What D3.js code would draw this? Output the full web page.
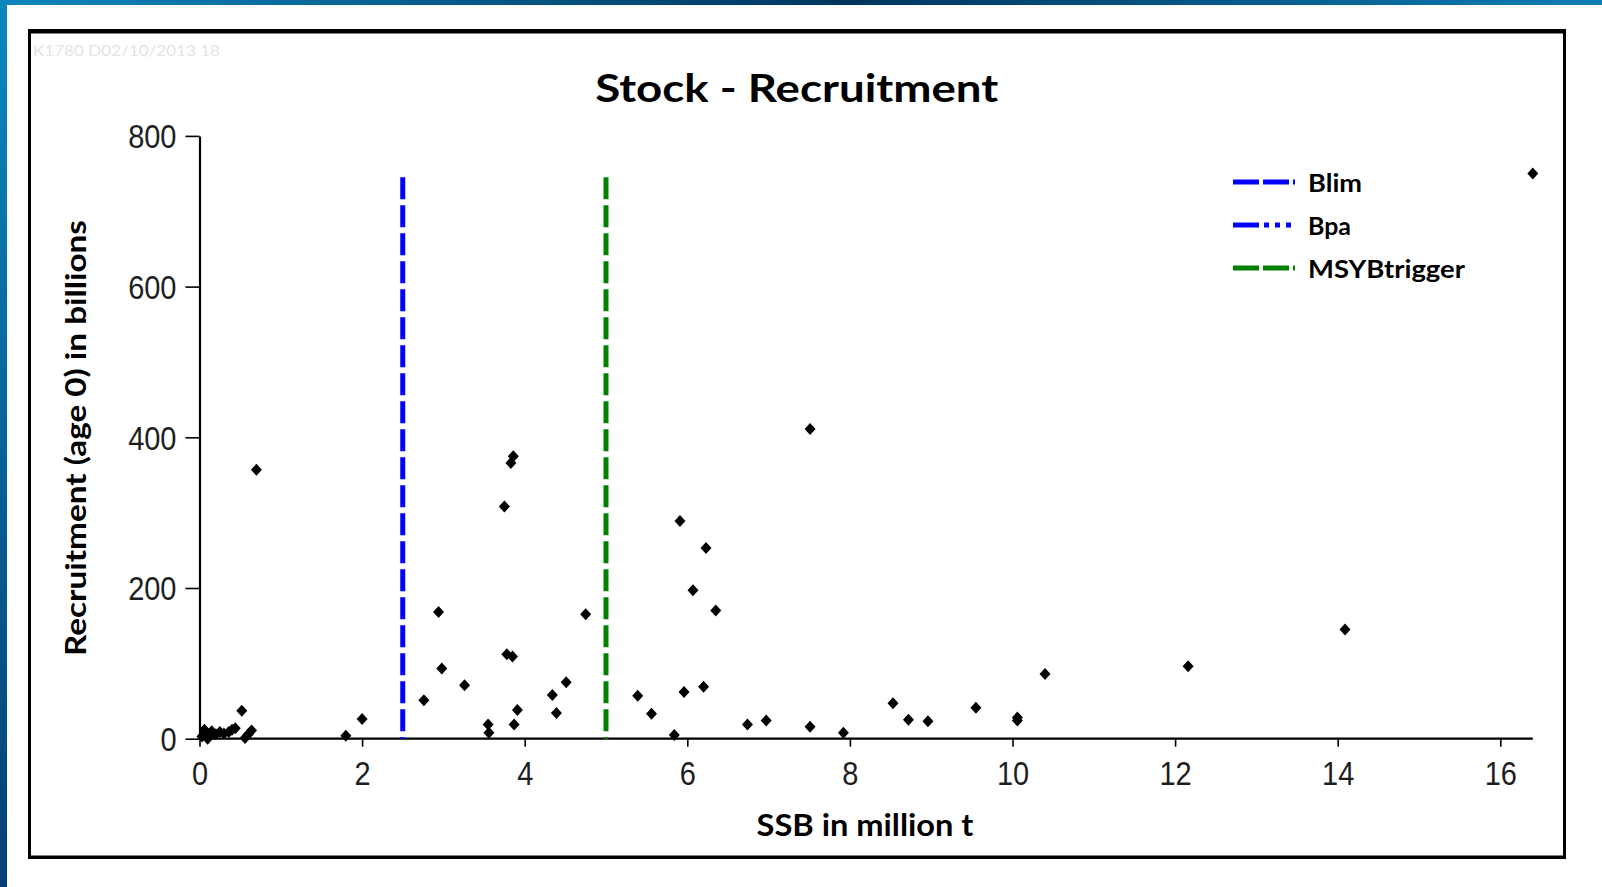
<!DOCTYPE html>
<html>
<head>
<meta charset="utf-8">
<script src="https://cdn.jsdelivr.net/npm/d3@7"></script>
<style>
  html, body { margin: 0; padding: 0; background: #ffffff; }
  svg { display: block; }
</style>
</head>
<body>
<svg id="chart" width="1602" height="887"></svg>
<script>
// ---------- data ----------
const xTicks = [0, 2, 4, 6, 8, 10, 12, 14, 16];
const yTicks = [0, 200, 400, 600, 800];

const ssb = [
  16.40, 7.51, 0.70, 3.86, 3.83, 3.75, 5.91, 6.23, 6.07, 6.35,
  2.94, 4.75, 14.09, 12.16, 3.78, 3.85, 2.98, 10.40, 4.51, 3.26,
  6.20, 5.96, 4.34, 5.39, 2.76, 8.53, 9.55, 3.91, 0.52, 4.39,
  5.56, 2.00, 8.72, 8.96, 6.97, 10.06, 10.06, 3.55, 3.87, 6.74,
  7.51, 3.56, 7.92, 5.84, 1.80,
  0.03, 0.06, 0.09, 0.12, 0.15, 0.10, 0.20, 0.25, 0.30, 0.36,
  0.40, 0.44, 0.56, 0.60, 0.64
];
const recruitment = [
  750, 411, 357, 375, 366, 308, 289, 253, 197, 170,
  168, 165, 145, 96, 112, 109, 93, 86, 75, 71,
  69, 62, 58, 57, 51, 47, 41, 38, 37, 34,
  33, 26, 25, 23, 24, 28, 24, 19, 19, 19,
  16, 8, 8, 5, 4,
  3, 12, 8, 4, 10, 0, 6, 9, 7, 9,
  12, 14, 1, 6, 11
];

const refNames = ["Blim", "Bpa", "MSYBtrigger"];
const refValues = [2.5, null, 5.0];
const refTop = 745;

const titleText = "Stock - Recruitment";
const xTitle = "SSB in million t";
const yTitle = "Recruitment (age 0) in billions";
const watermark = "K1780  D02/10/2013 18";

// ---------- styles ----------
const refColors = { Blim: "#0000ff", Bpa: "#0000ff", MSYBtrigger: "#008000" };
const legendDash = { Blim: "26,4", Bpa: "26,5,5,6,5,6,5,10", MSYBtrigger: "26,4" };
const plotDash = { Blim: "22,6", Bpa: "4,6", MSYBtrigger: "22,6" };
const legendTextLen = { Blim: 54, Bpa: 43, MSYBtrigger: 157 };

const svg = d3.select("#chart");

// background decoration
const defs = svg.append("defs");
const gTop = defs.append("linearGradient").attr("id", "gTop").attr("x1", "0").attr("x2", "1").attr("y1", "0").attr("y2", "0");
gTop.append("stop").attr("offset", "0").attr("stop-color", "#0d86bd");
gTop.append("stop").attr("offset", "0.53").attr("stop-color", "#00355f");
gTop.append("stop").attr("offset", "1").attr("stop-color", "#0d7db4");
const gLeft = defs.append("linearGradient").attr("id", "gLeft").attr("x1", "0").attr("x2", "0").attr("y1", "0").attr("y2", "1");
gLeft.append("stop").attr("offset", "0").attr("stop-color", "#0a87be");
gLeft.append("stop").attr("offset", "1").attr("stop-color", "#063f73");

svg.append("rect").attr("x", 0).attr("y", 0).attr("width", 1602).attr("height", 887).attr("fill", "#ffffff");
svg.append("rect").attr("x", 0).attr("y", 0).attr("width", 1602).attr("height", 5).attr("fill", "url(#gTop)");
svg.append("rect").attr("x", 0).attr("y", 0).attr("width", 7).attr("height", 887).attr("fill", "url(#gLeft)");

// chart frame
svg.append("rect").attr("x", 29.5).attr("y", 30.5).attr("width", 1535).attr("height", 827)
  .attr("fill", "#ffffff").attr("stroke", "#000000").attr("stroke-width", 3);
svg.append("line").attr("x1", 28).attr("x2", 1566).attr("y1", 32.5).attr("y2", 32.5).attr("stroke", "#000").attr("stroke-width", 2);
svg.append("line").attr("x1", 28).attr("x2", 1566).attr("y1", 856.5).attr("y2", 856.5).attr("stroke", "#000").attr("stroke-width", 2);

// watermark
svg.append("text").attr("x", 33).attr("y", 56)
  .attr("font-family", "Lato, 'Open Sans', sans-serif").attr("font-size", 15)
  .attr("fill", "#e4e4e4").attr("textLength", 187).attr("lengthAdjust", "spacingAndGlyphs")
  .text(watermark);

// ---------- scales ----------
const x = d3.scaleLinear().domain([0, 16]).range([199.5, 1500.3]);
const y = d3.scaleLinear().domain([0, 800]).range([738.7, 135.9]);
const xAxisEnd = 16.4;

// title
svg.append("text").attr("x", 796.7).attr("y", 101.5).attr("text-anchor", "middle")
  .attr("font-family", "Lato, 'Open Sans', sans-serif").attr("font-weight", "bold").attr("font-size", 39)
  .attr("fill", "#000").attr("textLength", 403).attr("lengthAdjust", "spacingAndGlyphs")
  .text(titleText);

// axes
const tickFont = "'Liberation Sans', Arial, sans-serif";
const tickStretch = 1.17;
const xAxis = svg.append("g").attr("transform", `translate(0,${y(0)})`)
  .call(d3.axisBottom(x).tickValues(xTicks).tickFormat(d3.format("d")).tickSize(8).tickSizeOuter(0).tickPadding(11));
xAxis.select(".domain").attr("d", `M${x(0)},0H${x(xAxisEnd)}`).attr("stroke-width", 2.2).attr("stroke", "#000");
xAxis.selectAll(".tick line").attr("stroke-width", 1.6).attr("stroke", "#000");
xAxis.selectAll(".tick text").attr("font-family", tickFont).attr("font-size", 29).attr("fill", "#1e1e1e")
  .attr("transform", `scale(1,${tickStretch})`);

const yAxis = svg.append("g").attr("transform", `translate(${x(0)},0)`)
  .call(d3.axisLeft(y).tickValues(yTicks).tickFormat(d3.format("d")).tickSize(14).tickSizeOuter(0).tickPadding(9));
yAxis.select(".domain").attr("stroke-width", 2.2).attr("stroke", "#000");
yAxis.selectAll(".tick line").attr("stroke-width", 1.6).attr("stroke", "#000");
yAxis.selectAll(".tick text").attr("font-family", tickFont).attr("font-size", 29).attr("fill", "#1e1e1e").attr("dy", "0.35em")
  .attr("transform", `scale(1,${tickStretch})`);

// axis titles
svg.append("text").attr("x", 865).attr("y", 836).attr("text-anchor", "middle")
  .attr("font-family", "Lato, 'Open Sans', sans-serif").attr("font-weight", "bold").attr("font-size", 30)
  .attr("fill", "#000").attr("textLength", 217).attr("lengthAdjust", "spacingAndGlyphs")
  .text(xTitle);
svg.append("text").attr("transform", "translate(85.5,438) rotate(-90)").attr("text-anchor", "middle")
  .attr("font-family", "Lato, 'Open Sans', sans-serif").attr("font-weight", "bold").attr("font-size", 28)
  .attr("fill", "#000").attr("textLength", 436).attr("lengthAdjust", "spacingAndGlyphs")
  .text(yTitle);

// reference lines
const refs = refNames.map((n, i) => ({ name: n, value: refValues[i] }));
svg.append("g").selectAll("line").data(refs.filter(r => r.value !== null)).join("line")
  .attr("x1", d => x(d.value)).attr("x2", d => x(d.value))
  .attr("y1", y(refTop)).attr("y2", y(0))
  .attr("stroke", d => refColors[d.name]).attr("stroke-width", 5)
  .attr("stroke-dasharray", d => plotDash[d.name]);

// points
const pts = ssb.map((v, i) => ({ x: v, y: recruitment[i] }));
const hw = 5.5, hh = 6;
svg.append("g").selectAll("path").data(pts).join("path")
  .attr("d", d => {
    const cx = x(d.x), cy = y(d.y);
    return `M${cx},${cy - hh}L${cx + hw},${cy}L${cx},${cy + hh}L${cx - hw},${cy}Z`;
  })
  .attr("fill", "#000");

// legend
const legX0 = 1233, legX1 = 1295, legY0 = 182, legStep = 43;
const leg = svg.append("g").selectAll("g").data(refs).join("g")
  .attr("transform", (d, i) => `translate(0,${legY0 + i * legStep})`);
leg.append("line").attr("x1", legX0).attr("x2", legX1).attr("y1", 0).attr("y2", 0)
  .attr("stroke", d => refColors[d.name]).attr("stroke-width", 5)
  .attr("stroke-dasharray", d => legendDash[d.name]);
leg.append("text").attr("x", 1308).attr("y", 9.5)
  .attr("font-family", "Lato, 'Open Sans', sans-serif").attr("font-weight", "bold").attr("font-size", 24.5)
  .attr("fill", "#000")
  .attr("textLength", d => legendTextLen[d.name]).attr("lengthAdjust", "spacingAndGlyphs")
  .text(d => d.name);
</script>
</body>
</html>
